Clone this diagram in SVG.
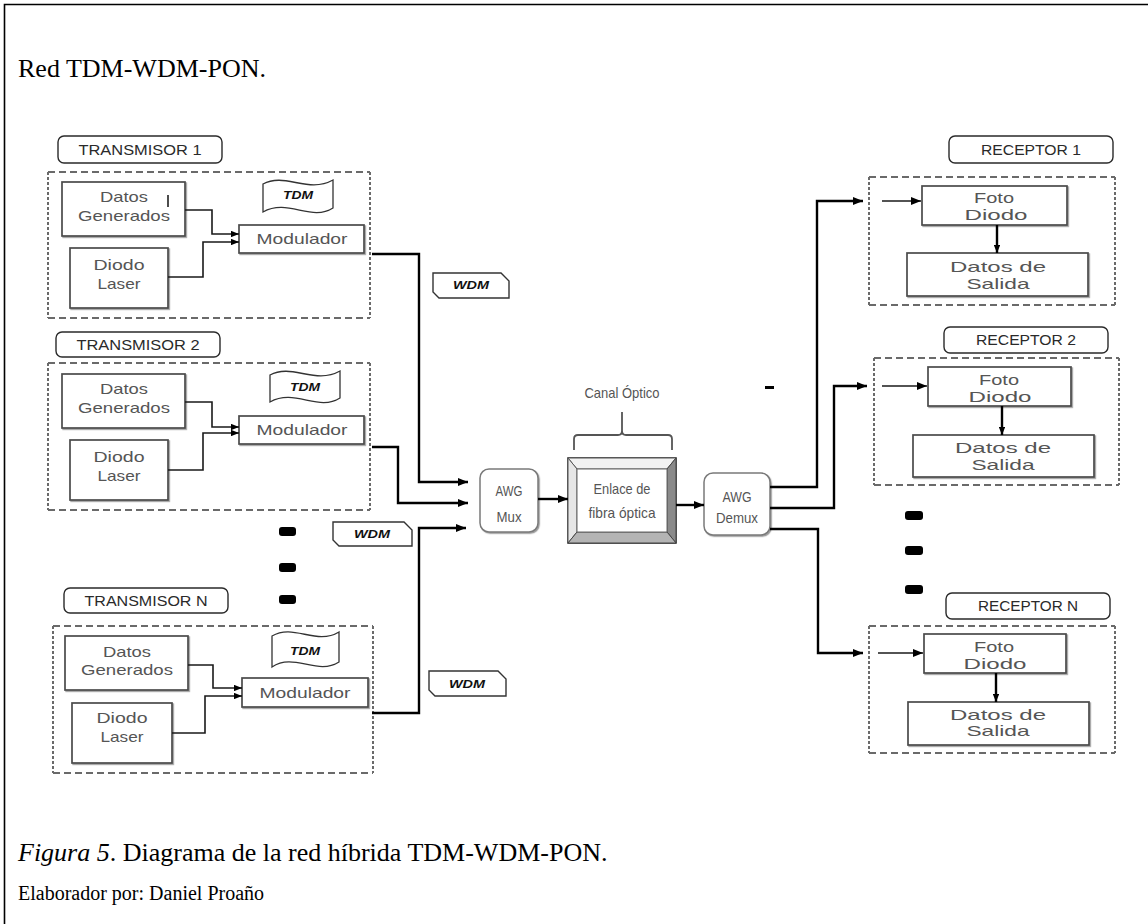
<svg xmlns="http://www.w3.org/2000/svg" width="1148" height="924" viewBox="0 0 1148 924">
  <defs>
    <style>
      .frame { fill: none; stroke: #000; stroke-width: 1.6; }
      .title { font-family: "Liberation Serif", "Times New Roman", serif; font-size: 26px; fill: #000; }
      .credit { font-family: "Liberation Serif", "Times New Roman", serif; font-size: 20px; fill: #000; }
      .tag { fill: #fff; stroke: #2a2a2a; stroke-width: 1.4; }
      .tagtxt { font-family: "Liberation Sans", Arial, sans-serif; font-size: 14.5px; fill: #2a2a2a; text-anchor: middle; }
      .group-h { fill: none; stroke: #6a6a6a; stroke-width: 2; stroke-dasharray: 7 4; }
      .group-v { fill: none; stroke: #6a6a6a; stroke-width: 2; stroke-dasharray: 3 2; }
      .box { fill: #fff; stroke: #4a4a4a; stroke-width: 1.7; filter: url(#soft); }
      .txt { font-family: "Liberation Sans", Arial, sans-serif; font-size: 14.5px; fill: #555; text-anchor: middle; }
      .awg { fill: #fff; stroke: #7a7a7a; stroke-width: 1.5; filter: url(#soft); }
      .awgtxt { font-family: "Liberation Sans", Arial, sans-serif; font-size: 15px; fill: #555; text-anchor: middle; }
      .flag { fill: #fff; stroke: #333; stroke-width: 1.3; }
      .wdm { fill: #fff; stroke: #333; stroke-width: 1.4; }
      .mark { font-family: "Liberation Sans", Arial, sans-serif; font-size: 10px; font-weight: bold; font-style: italic; fill: #111; text-anchor: middle; }
      .wire { fill: none; stroke: #000; stroke-width: 2.4; }
      .thin { fill: none; stroke: #1a1a1a; stroke-width: 1.6; }
      .dot { fill: #000; }
    </style>
    <filter id="soft" x="-5%" y="-5%" width="115%" height="120%">
      <feDropShadow dx="1.2" dy="1.2" stdDeviation="0.6" flood-color="#888" flood-opacity="0.8"/>
    </filter>
    <marker id="arr" viewBox="0 0 10 8" refX="10" refY="4" markerWidth="10" markerHeight="8" markerUnits="userSpaceOnUse" orient="auto">
      <path d="M0,0 L10,4 L0,8 z" fill="#000"/>
    </marker>
    <marker id="arrs" viewBox="0 0 10 8" refX="10" refY="4" markerWidth="8" markerHeight="6.5" markerUnits="userSpaceOnUse" orient="auto">
      <path d="M0,0 L10,4 L0,8 z" fill="#000"/>
    </marker>
  </defs>

  <rect width="1148" height="924" fill="#fff"/>
  <!-- page frame: top and left rules -->
  <path class="frame" d="M4.5,924 V4.5 H1148"/>

  <text class="title" x="18" y="77">Red TDM-WDM-PON.</text>

  <!-- Transmitter 1 -->
  <g id="tx1">
    <rect class="tag" x="58" y="136" width="164" height="27" rx="6"/>
    <text class="tagtxt" x="140" y="155" textLength="123" lengthAdjust="spacingAndGlyphs">TRANSMISOR 1</text>
    <path class="group-h" d="M48,172 H370 M48,318 H370"/>
    <path class="group-v" d="M48,172 V318 M370,172 V318"/>
    <rect class="box" x="62" y="182" width="123" height="54"/>
    <text class="txt" x="124" y="202" textLength="48" lengthAdjust="spacingAndGlyphs">Datos</text>
    <text class="txt" x="124" y="221" textLength="92" lengthAdjust="spacingAndGlyphs">Generados</text>
    <line x1="168" y1="195" x2="168" y2="207" stroke="#000" stroke-width="1.4"/>
    <rect class="box" x="70" y="248" width="98" height="60"/>
    <text class="txt" x="119" y="270" textLength="51" lengthAdjust="spacingAndGlyphs">Diodo</text>
    <text class="txt" x="119" y="289" textLength="43" lengthAdjust="spacingAndGlyphs">Laser</text>
    <rect class="box" x="239" y="225" width="125" height="28"/>
    <text class="txt" x="302" y="244" textLength="91" lengthAdjust="spacingAndGlyphs">Modulador</text>
    <path class="flag" d="M263,184 C285,172 308,194 333,180 V208 C311,222 288,198 263,212 Z"/>
    <text class="mark" x="298" y="199" textLength="30" lengthAdjust="spacingAndGlyphs">TDM</text>
  </g>

  <!-- Transmitter 2 -->
  <g id="tx2">
    <rect class="tag" x="56" y="332" width="164" height="25" rx="6"/>
    <text class="tagtxt" x="138" y="350" textLength="123" lengthAdjust="spacingAndGlyphs">TRANSMISOR 2</text>
    <path class="group-h" d="M48,363 H370 M48,510 H370"/>
    <path class="group-v" d="M48,363 V510 M370,363 V510"/>
    <rect class="box" x="62" y="374" width="123" height="54"/>
    <text class="txt" x="124" y="394" textLength="48" lengthAdjust="spacingAndGlyphs">Datos</text>
    <text class="txt" x="124" y="413" textLength="92" lengthAdjust="spacingAndGlyphs">Generados</text>
    <rect class="box" x="70" y="440" width="98" height="60"/>
    <text class="txt" x="119" y="462" textLength="51" lengthAdjust="spacingAndGlyphs">Diodo</text>
    <text class="txt" x="119" y="481" textLength="43" lengthAdjust="spacingAndGlyphs">Laser</text>
    <rect class="box" x="239" y="416" width="125" height="28"/>
    <text class="txt" x="302" y="435" textLength="91" lengthAdjust="spacingAndGlyphs">Modulador</text>
    <path class="flag" d="M270,375 C292,363 315,385 340,371 V398 C318,412 295,388 270,402 Z"/>
    <text class="mark" x="305" y="391" textLength="30" lengthAdjust="spacingAndGlyphs">TDM</text>
  </g>

  <!-- Transmitter N -->
  <g id="txn">
    <rect class="tag" x="64" y="588" width="164" height="25" rx="6"/>
    <text class="tagtxt" x="146" y="606" textLength="123" lengthAdjust="spacingAndGlyphs">TRANSMISOR N</text>
    <path class="group-h" d="M53,626 H373 M53,773 H373"/>
    <path class="group-v" d="M53,626 V773 M373,626 V773"/>
    <rect class="box" x="65" y="636" width="123" height="54"/>
    <text class="txt" x="127" y="657" textLength="48" lengthAdjust="spacingAndGlyphs">Datos</text>
    <text class="txt" x="127" y="675" textLength="92" lengthAdjust="spacingAndGlyphs">Generados</text>
    <rect class="box" x="72" y="703" width="100" height="60"/>
    <text class="txt" x="122" y="723" textLength="51" lengthAdjust="spacingAndGlyphs">Diodo</text>
    <text class="txt" x="122" y="742" textLength="43" lengthAdjust="spacingAndGlyphs">Laser</text>
    <rect class="box" x="242" y="678" width="126" height="29"/>
    <text class="txt" x="305" y="698" textLength="91" lengthAdjust="spacingAndGlyphs">Modulador</text>
    <path class="flag" d="M272,636 C294,623 316,646 339,632 V662 C317,676 294,652 272,667 Z"/>
    <text class="mark" x="305" y="655" textLength="30" lengthAdjust="spacingAndGlyphs">TDM</text>
  </g>

  <!-- WDM tags on the transmitter fibres -->
  <g id="wdm-tags">
    <path class="wdm" d="M433,273 H501 L509,281 V298 H439 L433,292 Z"/>
    <text class="mark" x="471" y="289" textLength="36" lengthAdjust="spacingAndGlyphs">WDM</text>
    <path class="wdm" d="M333,522 H404 L412,530 V546 H339 L333,540 Z"/>
    <text class="mark" x="372" y="538" textLength="36" lengthAdjust="spacingAndGlyphs">WDM</text>
    <path class="wdm" d="M429,671 H498 L506,679 V696 H435 L429,690 Z"/>
    <text class="mark" x="467" y="688" textLength="36" lengthAdjust="spacingAndGlyphs">WDM</text>
  </g>

  <!-- ellipsis marks between branches -->
  <g id="ellipsis">
    <rect class="dot" x="279" y="527" width="17" height="9" rx="3"/>
    <rect class="dot" x="279" y="563" width="17" height="9" rx="3"/>
    <rect class="dot" x="279" y="595" width="17" height="9" rx="3"/>
    <rect class="dot" x="905" y="511" width="18" height="9" rx="3"/>
    <rect class="dot" x="905" y="546" width="18" height="9" rx="3"/>
    <rect class="dot" x="905" y="585" width="18" height="9" rx="3"/>
    <rect class="dot" x="765" y="386" width="9" height="3"/>
  </g>

  <!-- AWG multiplexer -->
  <g id="awg-mux">
    <rect class="awg" x="480" y="469" width="58" height="63" rx="9"/>
    <text class="awgtxt" x="509" y="496" textLength="27" lengthAdjust="spacingAndGlyphs">AWG</text>
    <text class="awgtxt" x="509" y="522" textLength="25" lengthAdjust="spacingAndGlyphs">Mux</text>
  </g>

  <!-- optical channel: bevelled fibre link -->
  <g id="fibre-link">
    <text class="awgtxt" x="622" y="398" textLength="75" lengthAdjust="spacingAndGlyphs" fill="#666">Canal Óptico</text>
    <path d="M574,450 V439 Q574,435 578,435 H618 Q622,435 622,431 V412 M622,431 Q622,435 626,435 H668 Q672,435 672,439 V450" fill="none" stroke="#555" stroke-width="1.8"/>
    <rect x="568" y="458" width="108" height="85" fill="#fff" stroke="#333" stroke-width="1.6"/>
    <path d="M568,458 H676 L667,469 H577 Z" fill="#f2f2f2" stroke="#555" stroke-width="1"/>
    <path d="M568,458 L577,469 V532 L568,543 Z" fill="#e6e6e6" stroke="#555" stroke-width="1"/>
    <path d="M676,458 L667,469 V532 L676,543 Z" fill="#8a8a8a" stroke="#444" stroke-width="1"/>
    <path d="M568,543 L577,532 H667 L676,543 Z" fill="#b4b4b4" stroke="#444" stroke-width="1"/>
    <rect x="577" y="469" width="90" height="63" fill="#fff" stroke="#666" stroke-width="1"/>
    <text class="awgtxt" x="622" y="494" textLength="57" lengthAdjust="spacingAndGlyphs">Enlace de</text>
    <text class="awgtxt" x="622" y="518" textLength="67" lengthAdjust="spacingAndGlyphs">fibra óptica</text>
  </g>

  <!-- AWG demultiplexer -->
  <g id="awg-demux">
    <rect class="awg" x="704" y="473" width="66" height="62" rx="9"/>
    <text class="awgtxt" x="737" y="502" textLength="29" lengthAdjust="spacingAndGlyphs">AWG</text>
    <text class="awgtxt" x="737" y="523" textLength="42" lengthAdjust="spacingAndGlyphs">Demux</text>
  </g>

  <!-- Receiver 1 -->
  <g id="rx1">
    <rect class="tag" x="949" y="136" width="164" height="27" rx="6"/>
    <text class="tagtxt" x="1031" y="155" textLength="100" lengthAdjust="spacingAndGlyphs">RECEPTOR 1</text>
    <path class="group-h" d="M869,177 H1115 M869,305 H1115"/>
    <path class="group-v" d="M869,177 V305 M1115,177 V305"/>
    <rect class="box" x="922" y="186" width="145" height="39"/>
    <text class="txt" x="994" y="203" textLength="40" lengthAdjust="spacingAndGlyphs">Foto</text>
    <text class="txt" x="996" y="220" textLength="63" lengthAdjust="spacingAndGlyphs">Diodo</text>
    <rect class="box" x="907" y="253" width="181" height="43"/>
    <text class="txt" x="998" y="272" textLength="96" lengthAdjust="spacingAndGlyphs">Datos de</text>
    <text class="txt" x="998" y="289" textLength="63" lengthAdjust="spacingAndGlyphs">Salida</text>
  </g>

  <!-- Receiver 2 -->
  <g id="rx2">
    <rect class="tag" x="944" y="327" width="164" height="26" rx="6"/>
    <text class="tagtxt" x="1026" y="345" textLength="100" lengthAdjust="spacingAndGlyphs">RECEPTOR 2</text>
    <path class="group-h" d="M874,358 H1119 M874,485 H1119"/>
    <path class="group-v" d="M874,358 V485 M1119,358 V485"/>
    <rect class="box" x="928" y="367" width="143" height="39"/>
    <text class="txt" x="999" y="385" textLength="40" lengthAdjust="spacingAndGlyphs">Foto</text>
    <text class="txt" x="1000" y="402" textLength="63" lengthAdjust="spacingAndGlyphs">Diodo</text>
    <rect class="box" x="913" y="435" width="181" height="42"/>
    <text class="txt" x="1003" y="453" textLength="96" lengthAdjust="spacingAndGlyphs">Datos de</text>
    <text class="txt" x="1003" y="470" textLength="63" lengthAdjust="spacingAndGlyphs">Salida</text>
  </g>

  <!-- Receiver N -->
  <g id="rxn">
    <rect class="tag" x="946" y="593" width="164" height="26" rx="6"/>
    <text class="tagtxt" x="1028" y="611" textLength="100" lengthAdjust="spacingAndGlyphs">RECEPTOR N</text>
    <path class="group-h" d="M869,626 H1115 M869,753 H1115"/>
    <path class="group-v" d="M869,626 V753 M1115,626 V753"/>
    <rect class="box" x="924" y="634" width="142" height="39"/>
    <text class="txt" x="994" y="652" textLength="40" lengthAdjust="spacingAndGlyphs">Foto</text>
    <text class="txt" x="995" y="669" textLength="63" lengthAdjust="spacingAndGlyphs">Diodo</text>
    <rect class="box" x="908" y="702" width="181" height="43"/>
    <text class="txt" x="998" y="720" textLength="96" lengthAdjust="spacingAndGlyphs">Datos de</text>
    <text class="txt" x="998" y="736" textLength="63" lengthAdjust="spacingAndGlyphs">Salida</text>
  </g>

  <!-- connectors -->
  <g id="connectors">
    <!-- inside the transmitters -->
    <path class="thin" marker-end="url(#arrs)" d="M185,210 H212 V234 H239"/>
    <path class="thin" marker-end="url(#arrs)" d="M168,277 H203 V242 H239"/>
    <path class="thin" marker-end="url(#arrs)" d="M185,402 H212 V427 H239"/>
    <path class="thin" marker-end="url(#arrs)" d="M168,470 H203 V433 H239"/>
    <path class="thin" marker-end="url(#arrs)" d="M188,665 H213 V688 H242"/>
    <path class="thin" marker-end="url(#arrs)" d="M172,733 H205 V696 H242"/>
    <!-- transmitter fibres into the multiplexer -->
    <path class="wire" marker-end="url(#arr)" d="M372,254 H419 V482 H468"/>
    <path class="wire" marker-end="url(#arr)" d="M372,447 H398 V503 H468"/>
    <path class="wire" marker-end="url(#arr)" d="M372,713 H419 V528 H466"/>
    <!-- trunk -->
    <path class="wire" marker-end="url(#arr)" d="M538,499 H568"/>
    <path class="wire" marker-end="url(#arr)" d="M676,505 H704"/>
    <!-- demultiplexer outputs -->
    <path class="wire" marker-end="url(#arr)" d="M770,487 H817 V201 H863"/>
    <path class="wire" marker-end="url(#arr)" d="M770,508 H834 V386 H867"/>
    <path class="wire" marker-end="url(#arr)" d="M770,529 H818 V653 H863"/>
    <!-- inside the receivers -->
    <path class="thin" marker-end="url(#arr)" d="M882,201 H921"/>
    <path class="thin" marker-end="url(#arr)" d="M882,386 H927"/>
    <path class="thin" marker-end="url(#arr)" d="M878,653 H923"/>
    <path class="wire" marker-end="url(#arrs)" d="M997,225 V253"/>
    <path class="wire" marker-end="url(#arrs)" d="M1002,406 V435"/>
    <path class="wire" marker-end="url(#arrs)" d="M996,673 V702"/>
  </g>

  <text class="title" x="18" y="861"><tspan font-style="italic">Figura 5</tspan>. Diagrama de la red híbrida TDM-WDM-PON.</text>
  <text class="credit" x="18" y="900">Elaborador por: Daniel Proaño</text>
</svg>
